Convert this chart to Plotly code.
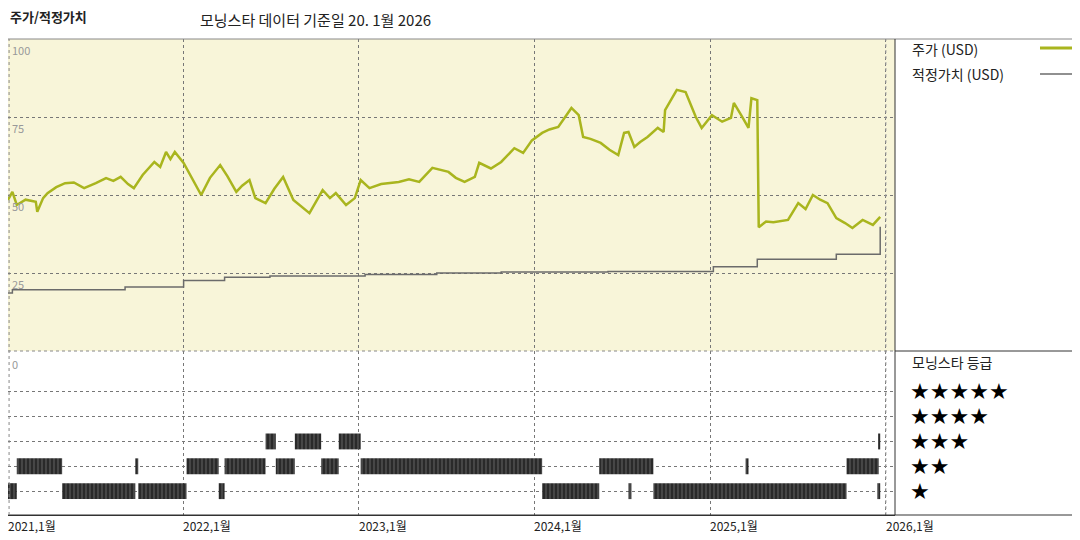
import plotly.graph_objects as go
import pandas as pd

# months since 2021-01-01 and values
price_months = [0, 0.3, 0.6, 1.2, 1.9, 2.0, 2.4, 2.7, 3.3, 3.9, 4.5, 5.2, 6.0, 6.7, 7.2, 7.7, 8.2,
                8.6, 9.2, 10.0, 10.4, 10.8, 11.1, 11.4, 12.0, 12.6, 13.2, 13.8, 14.5, 15.0,
                15.6, 16.0, 16.5, 16.9, 17.6, 18.2, 18.8, 19.5, 20.0, 20.6, 21.5, 22.0, 22.4,
                23.1, 23.7, 24.1, 24.7, 25.5, 26.7, 27.4, 28.1, 29.0, 30.1, 30.6, 31.2, 31.9,
                32.2, 33.0, 33.7, 34.6, 35.2, 35.8, 36.5, 37.0, 37.6, 38.5, 39.0, 39.3, 39.8,
                40.5, 41.1, 41.7, 42.1, 42.4, 42.8, 43.2, 43.7, 44.4, 44.8, 44.9, 45.7, 46.3,
                47.0, 47.4, 48.1, 48.8, 49.4, 49.6, 50.1, 50.6, 50.8, 51.2, 51.3, 51.8, 52.3,
                53.3, 54.0, 54.5, 55.0, 55.5, 56.0, 56.6, 57.2, 57.7, 58.4, 59.1, 59.6]
price_values = [48.4, 51, 46.8, 48.5, 47.8, 44.6, 49, 50.6, 52.5, 53.8, 54, 52.2, 53.8, 55.4, 54.5,
                55.8, 53.5, 52.2, 56.4, 60.6, 59, 63.8, 61.5, 63.8, 60.3, 55, 50, 55.5, 59.6,
                56, 51, 53, 54.8, 49, 47.4, 52, 55.8, 48.4, 46.5, 44.2, 51.6, 49, 50.6, 46.8,
                49, 54.8, 52.2, 53.5, 54.2, 55, 54.2, 58.7, 57.4, 55.5, 54.2, 55.8, 60.3, 58.5,
                60.6, 65, 63.5, 67.5, 69.9, 71, 71.8, 77.9, 75.6, 68.6, 68, 66.7, 64.5, 62.8,
                69.9, 70.2, 65.4, 67, 68.6, 71.5, 70.2, 77.2, 83.7, 83, 75, 71.5, 75.6, 73.5,
                74.7, 79.5, 75.6, 71.5, 81, 80.4, 39.7, 41.5, 41.3, 42, 47.4, 45.5, 50, 48.5,
                47.4, 42.6, 41, 39.4, 42, 40.4, 43]

fair_months = [0, 0.3, 8.0, 12.0, 14.8, 17.9, 24.4, 29.3, 33.7, 41.0, 48.2, 51.2, 56.6, 59.6]
fair_values = [18.6, 19.6, 20.5, 22.6, 23.6, 24.0, 24.5, 25.0, 25.3, 25.5, 27.0, 29.4, 31.0, 39.8]

rating_start = [-0.1, 3.7, 8.9, 14.4, 36.5, 42.4, 44.1, 59.4,
                0.6, 8.7, 12.2, 14.8, 18.3, 21.4, 24.1, 40.4, 50.4, 57.3,
                17.6, 19.6, 22.6, 59.5]
rating_end = [0.6, 8.7, 12.2, 14.8, 40.4, 42.6, 57.3, 59.6,
              3.7, 8.9, 14.4, 17.6, 19.6, 22.6, 36.5, 44.1, 50.6, 59.5,
              18.3, 21.4, 24.1, 59.6]
rating_level = [1] * 8 + [2] * 10 + [3] * 4

y_ticks = [100, 75, 50, 25]
x_years = [2021, 2022, 2023, 2024, 2025, 2026]

start = pd.Timestamp("2021-01-01")


def to_date(m):
    return start + pd.Timedelta(days=m * 30.44)


# page body adds an 8px offset, so map reference pixels onto a 1072x532 figure
W, H, OFF = 1072, 532, 8


def px(x):
    return max((x - OFF) / W, 0)


def py(y):
    return 1 - (y - OFF) / H


font = "Noto Sans CJK KR"
price_color = "#a9b51e"
fair_color = "#6b6b6b"

fig = go.Figure()
fig.add_trace(go.Scatter(x=[to_date(m) for m in fair_months], y=fair_values, mode="lines",
                         line=dict(color=fair_color, width=1.5, shape="hv"), xaxis="x", yaxis="y"))
fig.add_trace(go.Scatter(x=[to_date(m) for m in price_months], y=price_values, mode="lines",
                         line=dict(color=price_color, width=2.5), xaxis="x", yaxis="y"))

bases = [to_date(s) for s in rating_start]
lengths = [max((to_date(e) - to_date(s)).total_seconds() * 1000, 2.5 * 86400000)
           for s, e in zip(rating_start, rating_end)]
fig.add_trace(go.Bar(y=rating_level, x=lengths, base=bases, orientation="h", width=0.64,
                     marker=dict(color="#2a2a2a", line=dict(width=0),
                                 pattern=dict(shape="|", fgcolor="#8a8a8a", size=4, solidity=0.3)),
                     xaxis="x2", yaxis="y2"))

xr = [start, pd.Timestamp("2026-01-20")]
grid = dict(showgrid=True, gridcolor="#777", griddash="dot", gridwidth=1)
top_y0, split, bot = py(39), py(351), py(515)
xdom = [px(4), px(895)]
fig.update_layout(
    width=W, height=H, margin=dict(l=0, r=0, t=0, b=0),
    paper_bgcolor="white", plot_bgcolor="white", showlegend=False,
    font=dict(family=font, size=12, color="#222"),
    xaxis=dict(domain=xdom, anchor="y", type="date", range=xr, showticklabels=False,
               dtick="M12", tick0="2021-01-01", zeroline=False, **grid),
    xaxis2=dict(domain=xdom, anchor="y2", type="date", range=xr, showticklabels=False,
                dtick="M12", tick0="2021-01-01", matches="x", showline=True,
                linecolor="#333", linewidth=1, **grid),
    yaxis=dict(domain=[split, top_y0], range=[0, 100], tickvals=[25, 50, 75],
               showticklabels=False, zeroline=False, **grid),
    yaxis2=dict(domain=[bot, split], range=[0.04, 6.64], tickvals=[1, 2, 3, 4, 5],
                showticklabels=False, zeroline=False, **grid),
)

shapes = [
    dict(type="rect", xref="x domain", yref="y domain", x0=0, x1=1, y0=0, y1=1,
         fillcolor="#f8f5d9", line=dict(width=0), layer="below"),
    dict(type="line", xref="x", yref="paper", x0=pd.Timestamp("2026-01-01"), x1=pd.Timestamp("2026-01-01"),
         y0=bot, y1=top_y0, line=dict(color="#999", width=1, dash="dot")),
    dict(type="line", xref="paper", yref="paper", x0=0, x1=1, y0=top_y0, y1=top_y0,
         line=dict(color="#888", width=1)),
    dict(type="line", xref="paper", yref="paper", x0=0, x1=1, y0=bot, y1=bot,
         line=dict(color="#333", width=1)),
    dict(type="line", xref="paper", yref="paper", x0=xdom[1], x1=xdom[1], y0=bot, y1=top_y0,
         line=dict(color="#333", width=1)),
    dict(type="line", xref="paper", yref="paper", x0=xdom[1], x1=1, y0=split, y1=split,
         line=dict(color="#333", width=1)),
    dict(type="line", xref="paper", yref="paper", x0=0, x1=xdom[1], y0=split, y1=split,
         line=dict(color="#888", width=1, dash="dot")),
    dict(type="line", xref="paper", yref="paper", x0=0.001, x1=0.001, y0=bot, y1=top_y0,
         line=dict(color="#888", width=1, dash="dot")),
    dict(type="line", xref="paper", yref="paper", x0=px(1040), x1=px(1073),
         y0=py(48), y1=py(48), line=dict(color=price_color, width=3)),
    dict(type="line", xref="paper", yref="paper", x0=px(1040), x1=px(1073),
         y0=py(74), y1=py(74), line=dict(color=fair_color, width=1.5)),
]
fig.update_layout(shapes=shapes)

ann = [
    dict(text="<b>주가/적정가치</b>", x=px(8), y=py(17), font=dict(size=13)),
    dict(text="모닝스타 데이터 기준일 20. 1월 2026", x=px(198), y=py(20), font=dict(size=15)),
    dict(text="주가 (USD)", x=px(910), y=py(49), font=dict(size=14)),
    dict(text="적정가치 (USD)", x=px(910), y=py(74), font=dict(size=14)),
    dict(text="모닝스타 등급", x=px(910), y=py(362), font=dict(size=14)),
]
for a in ann:
    a.update(xref="paper", yref="paper", xanchor="left", yanchor="middle", showarrow=False)
    fig.add_annotation(**a)

for v in y_ticks:
    fig.add_annotation(text=str(v), x=0.002, xref="paper", y=v, yref="y", xanchor="left",
                       yanchor="top", showarrow=False, yshift=-1, font=dict(size=11, color="#999"))
fig.add_annotation(text="0", x=0.002, xref="paper", y=6.64, yref="y2", xanchor="left",
                   yanchor="top", showarrow=False, yshift=-3, font=dict(size=11, color="#999"))

for n in [5, 4, 3, 2, 1]:
    fig.add_annotation(text="★" * n, x=px(908), xref="paper", y=n, yref="y2", xanchor="left",
                       yanchor="middle", showarrow=False, font=dict(size=22, color="black",
                                                                    family="DejaVu Sans"))

for yr in x_years:
    fig.add_annotation(text=f"{yr},1월", x=pd.Timestamp(f"{yr}-01-01"), xref="x2", y=bot, yref="paper",
                       xanchor="left", yanchor="top", showarrow=False, xshift=-2,
                       font=dict(size=12, color="#222"))

fig.write_html("out.html")
